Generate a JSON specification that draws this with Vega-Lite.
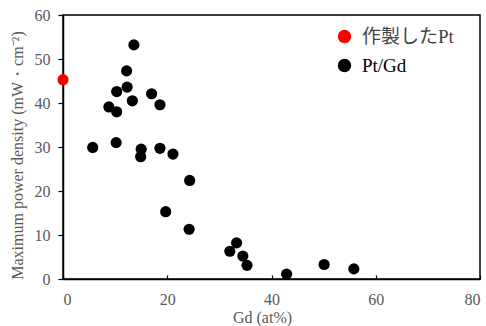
{
  "$schema": "https://vega.github.io/schema/vega-lite/v6.json",
  "autosize": "none",
  "width": 417,
  "height": 264,
  "padding": {"left": 63, "top": 15, "right": 6, "bottom": 47},
  "background": "white",
  "config": {
    "view": {"stroke": "black", "strokeWidth": 1.5},
    "axis": {
      "grid": false,
      "domainColor": "black",
      "domainWidth": 1.5,
      "tickColor": "black",
      "tickWidth": 1.2,
      "labelFont": "Liberation Serif",
      "labelFontSize": 16,
      "labelColor": "#595959",
      "titleFont": "Liberation Serif",
      "titleFontSize": 16,
      "titleFontWeight": "normal",
      "titleColor": "#595959"
    }
  },
  "data": {
    "values": [
      {"gd": 0, "p": 45.3, "s": "作製したPt"},
      {"gd": 5.7, "p": 29.9, "s": "Pt/Gd"},
      {"gd": 8.8, "p": 39.1, "s": "Pt/Gd"},
      {"gd": 10.2, "p": 31.0, "s": "Pt/Gd"},
      {"gd": 10.3, "p": 42.6, "s": "Pt/Gd"},
      {"gd": 10.3, "p": 38.0, "s": "Pt/Gd"},
      {"gd": 12.2, "p": 47.3, "s": "Pt/Gd"},
      {"gd": 12.3, "p": 43.6, "s": "Pt/Gd"},
      {"gd": 13.3, "p": 40.5, "s": "Pt/Gd"},
      {"gd": 13.6, "p": 53.2, "s": "Pt/Gd"},
      {"gd": 15.0, "p": 29.5, "s": "Pt/Gd"},
      {"gd": 14.9, "p": 27.8, "s": "Pt/Gd"},
      {"gd": 17.0, "p": 42.1, "s": "Pt/Gd"},
      {"gd": 18.6, "p": 39.6, "s": "Pt/Gd"},
      {"gd": 18.6, "p": 29.7, "s": "Pt/Gd"},
      {"gd": 21.1, "p": 28.4, "s": "Pt/Gd"},
      {"gd": 19.7, "p": 15.3, "s": "Pt/Gd"},
      {"gd": 24.3, "p": 22.4, "s": "Pt/Gd"},
      {"gd": 24.2, "p": 11.3, "s": "Pt/Gd"},
      {"gd": 32.0, "p": 6.3, "s": "Pt/Gd"},
      {"gd": 33.3, "p": 8.2, "s": "Pt/Gd"},
      {"gd": 34.5, "p": 5.2, "s": "Pt/Gd"},
      {"gd": 35.3, "p": 3.1, "s": "Pt/Gd"},
      {"gd": 42.9, "p": 1.1, "s": "Pt/Gd"},
      {"gd": 50.1, "p": 3.3, "s": "Pt/Gd"},
      {"gd": 55.8, "p": 2.3, "s": "Pt/Gd"}
    ]
  },
  "mark": {"type": "circle", "size": 125, "opacity": 1},
  "encoding": {
    "x": {
      "field": "gd", "type": "quantitative",
      "scale": {"domain": [0, 80], "nice": false, "zero": false},
      "axis": {
        "title": "Gd (at%)",
        "values": [0, 20, 40, 60, 80],
        "tickSize": -4,
        "labelPadding": 16,
        "titleX": 199,
        "titleY": 43,
        "titleAlign": "center",
        "titleBaseline": "alphabetic"
      }
    },
    "y": {
      "field": "p", "type": "quantitative",
      "scale": {"domain": [0, 60], "nice": false},
      "axis": {
        "title": "Maximum power density (mW・cm⁻²)",
        "values": [0, 10, 20, 30, 40, 50, 60],
        "tickSize": 5,
        "labelPadding": 8,
        "titleX": -41,
        "titleY": 140,
        "titleAlign": "center",
        "titleBaseline": "alphabetic",
        "titleAngle": -90
      }
    },
    "color": {
      "field": "s", "type": "nominal",
      "scale": {"domain": ["作製したPt", "Pt/Gd"], "range": ["#ff0000", "#000000"]},
      "legend": {
        "title": null,
        "orient": "none",
        "legendX": 272,
        "legendY": 12,
        "padding": 0,
        "symbolType": "circle",
        "symbolSize": 180,
        "symbolOpacity": 1,
        "symbolStrokeWidth": 0,
        "labelFont": "Liberation Serif, Noto Sans CJK JP",
        "labelFontSize": 19,
        "labelColor": "#000",
        "labelOffset": 8,
        "rowPadding": 9,
        "encode": {
          "labels": {"update": {"fill": {"signal": "datum.label == 'Pt/Gd' ? '#000000' : '#444444'"}}}
        }
      }
    }
  }
}
